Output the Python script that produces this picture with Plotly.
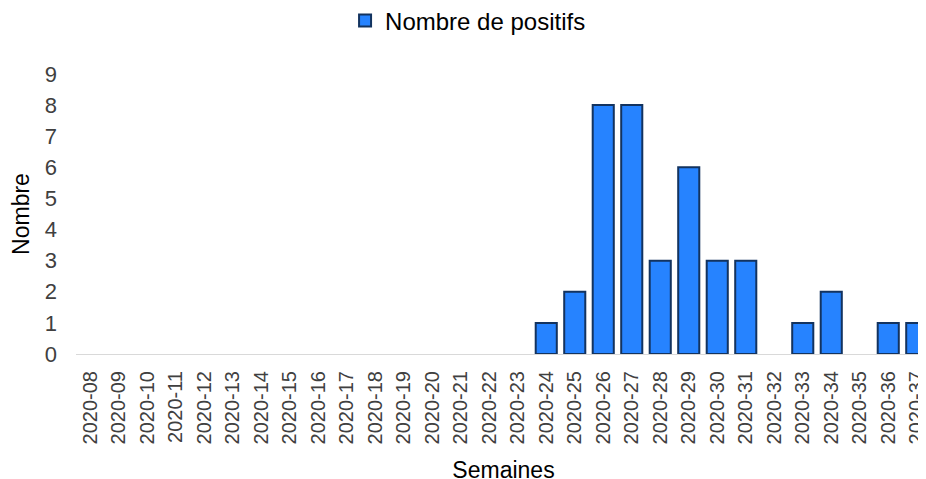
import plotly.graph_objects as go

semaines = ["2020-%02d" % w for w in range(8, 38)]
positifs = [0, 0, 0, 0, 0, 0, 0, 0, 0, 0, 0, 0, 0, 0, 0, 0,
            1, 2, 8, 8, 3, 6, 3, 3, 0, 1, 2, 0, 1, 1]
y_ticks = list(range(0, 10))

BAR_COLOR = "#2683FF"
EDGE_COLOR = "#13335F"

# no outline on empty weeks
outline = [2 if v > 0 else 0 for v in positifs]

fig = go.Figure()
fig.add_trace(go.Bar(x=semaines, y=positifs, name="Nombre de positifs",
                     width=0.74, showlegend=False,
                     marker=dict(color=BAR_COLOR,
                                 line=dict(color=EDGE_COLOR, width=outline))))
# legend entry only (keeps the outlined square)
fig.add_trace(go.Bar(x=[None], y=[None], name="Nombre de positifs",
                     marker=dict(color=BAR_COLOR,
                                 line=dict(color=EDGE_COLOR, width=2))))

fig.update_xaxes(type="category", range=[-0.5, 29.5], automargin=False,
                 tickangle=-90, showgrid=False,
                 showline=True, linecolor="#D9D9D9", linewidth=1,
                 ticks="", ticklabeloverflow="allow", ticklabelstandoff=8,
                 tickfont=dict(size=20, color="#404040"),
                 title=dict(text="Semaines", font=dict(size=23, color="#000000"),
                            standoff=18))
fig.update_yaxes(range=[0, 9], tickvals=y_ticks, showgrid=False,
                 automargin=False, zeroline=False, ticks="",
                 ticklabelstandoff=18,
                 tickfont=dict(size=22, color="#404040"),
                 title=dict(text="Nombre", font=dict(size=23, color="#000000"),
                            standoff=42))

fig.update_layout(width=926, height=479,
                  margin=dict(l=68, r=3, t=66, b=133),
                  font=dict(family="Liberation Sans, Arial, sans-serif"),
                  plot_bgcolor="white", paper_bgcolor="white",
                  showlegend=True, barmode="overlay",
                  legend=dict(orientation="h", x=0.364, xanchor="left",
                              xref="container",
                              y=0.973, yanchor="middle",
                              yref="container", itemwidth=30,
                              font=dict(size=24, color="#000000")))

fig.write_html("out.html")
